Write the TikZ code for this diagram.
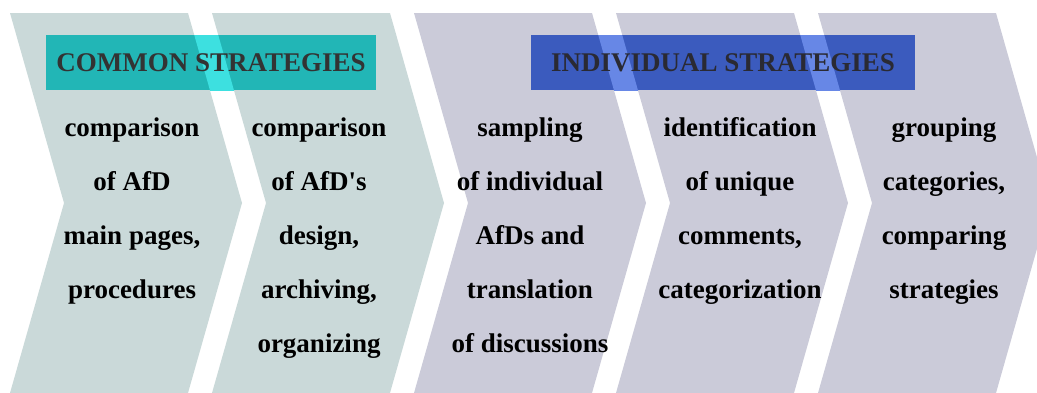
\documentclass[tikz,border=0pt]{standalone}
\usepackage{fontspec}
\setmainfont{Liberation Serif}
\usetikzlibrary{positioning}

\definecolor{commonbg}{HTML}{CAD9D9}
\definecolor{indivbg}{HTML}{CBCBD9}
\definecolor{commonbar}{HTML}{22B6B6}
\definecolor{commonlit}{HTML}{3DE0E0}
\definecolor{indivbar}{HTML}{3B5BBE}
\definecolor{indivlit}{HTML}{6787E6}
\definecolor{commonink}{HTML}{333333}
\definecolor{indivink}{HTML}{2A2A33}

\begin{document}
\begin{tikzpicture}[x=1pt,y=-1pt,
  step text/.style={font=\fontsize{27}{54}\selectfont\bfseries, align=center, anchor=base, inner sep=0pt},
  bar text/.style={font=\fontsize{27}{32}\selectfont\bfseries, inner sep=0pt}]
 \useasboundingbox (0,0) rectangle (1037,392);
 % chevrons, 202pt apart
 \foreach \i/\col in {0/commonbg,1/commonbg,2/indivbg,3/indivbg,4/indivbg}
  \fill[\col] (10+202*\i,13) -- ++(178,0) -- ++(54,190) -- ++(-54,190)
   -- ++(-178,0) -- ++(54,-190) -- cycle;
 % title bars, lighter where they cross the white gaps
 \foreach \barcol/\litcol/\xa/\xb in {commonbar/commonlit/46/376,indivbar/indivlit/531/915} {
  \fill[\barcol] (\xa,35) rectangle (\xb,90);
  \begin{scope}
   \clip (\xa,35) rectangle (\xb,90);
   \foreach \g in {0,...,3}
    \fill[\litcol] (188+202*\g,13) -- ++(24,0) -- ++(54,190) -- ++(-24,0) -- cycle;
  \end{scope}
 }
 \node[bar text, text=commonink] (common) at (211,63) {COMMON STRATEGIES};
 \node[bar text, text=indivink] (individual) at (723,63) {INDIVIDUAL STRATEGIES};
 % steps (base = last line)
 \node[step text] (mainpages) at (132,298) {comparison\\of AfD\\main pages,\\procedures};
 \node[step text] (design) at (319,352) {comparison\\of AfD\textquotesingle s\\design,\\archiving,\\organizing};
 \node[step text] (sampling) at (530,352) {sampling\\of individual\\AfDs and\\translation\\of discussions};
 \node[step text] (unique) at (740,298) {identification\\of unique\\comments,\\categorization};
 \node[step text] (grouping) at (944,298) {grouping\\categories,\\comparing\\strategies};
\end{tikzpicture}
\end{document}
